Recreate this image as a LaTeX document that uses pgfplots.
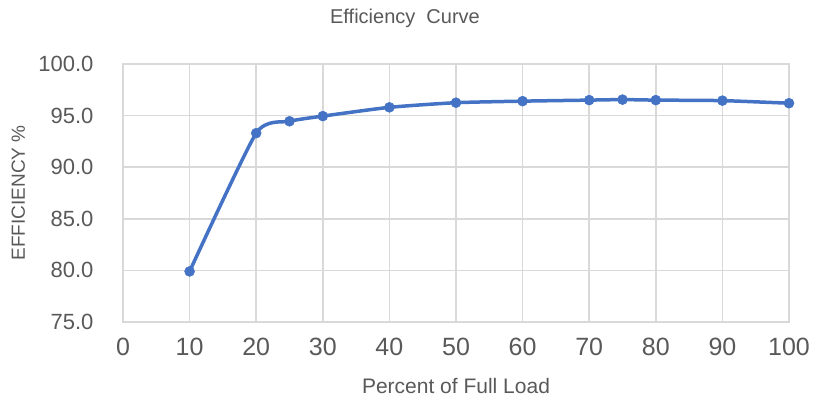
\documentclass[border=0pt]{standalone}
\usepackage{pgfplots}
\pgfplotsset{compat=1.18}
\usepackage{fontspec}
\setmainfont{Liberation Sans}
\definecolor{txt}{HTML}{595959}
\definecolor{gridc}{HTML}{D9D9D9}
\definecolor{ser}{HTML}{4472C4}
\begin{document}
\begin{tikzpicture}[x=1pt,y=1pt]
\useasboundingbox (-123,-79) rectangle (690,322);
\begin{axis}[
  at={(0,0)}, anchor=south west,
  scale only axis, width=666pt, height=258pt,
  xmin=0, xmax=100, ymin=75, ymax=100,
  xtick={0,10,...,100}, ytick={75,80,...,100},
  grid=major, major grid style={gridc, line width=1.6pt},
  axis line style={gridc, line width=1.6pt},
  tick style={draw=none},
  /pgf/number format/assume math mode=true,
  yticklabel={\pgfmathprintnumber[fixed,fixed zerofill,precision=1]{\tick}},
  ticklabel style={text=txt},
  xticklabel style={font=\fontsize{25}{28}\selectfont, yshift=-13pt},
  yticklabel style={font=\fontsize{22}{26}\selectfont, xshift=-26pt},
  xlabel={Percent of Full Load},
  ylabel={EFFICIENCY \%},
  xlabel style={font=\fontsize{21}{25}\selectfont, text=txt, at={(axis description cs:0.5,0)}, anchor=base, yshift=-71pt},
  ylabel style={font=\fontsize{19}{23}\selectfont, text=txt, at={(axis description cs:0,0.5)}, anchor=base, yshift=98pt},
  clip=false,
]
\addplot[ser, line width=3.5pt, smooth, tension=0.35, mark=*, mark size=5pt, mark options={solid, fill=ser, draw=ser, line width=0.5pt}]
coordinates {
(10,79.9) (20,93.3) (25,94.45) (30,94.95) (40,95.8) (50,96.25) (60,96.4) (70,96.5) (75,96.55) (80,96.5) (90,96.45) (100,96.2)
};
\end{axis}
\node[text=txt, font=\fontsize{20}{24}\selectfont] at (282,304) {Efficiency\ \ Curve};
\end{tikzpicture}
\end{document}
